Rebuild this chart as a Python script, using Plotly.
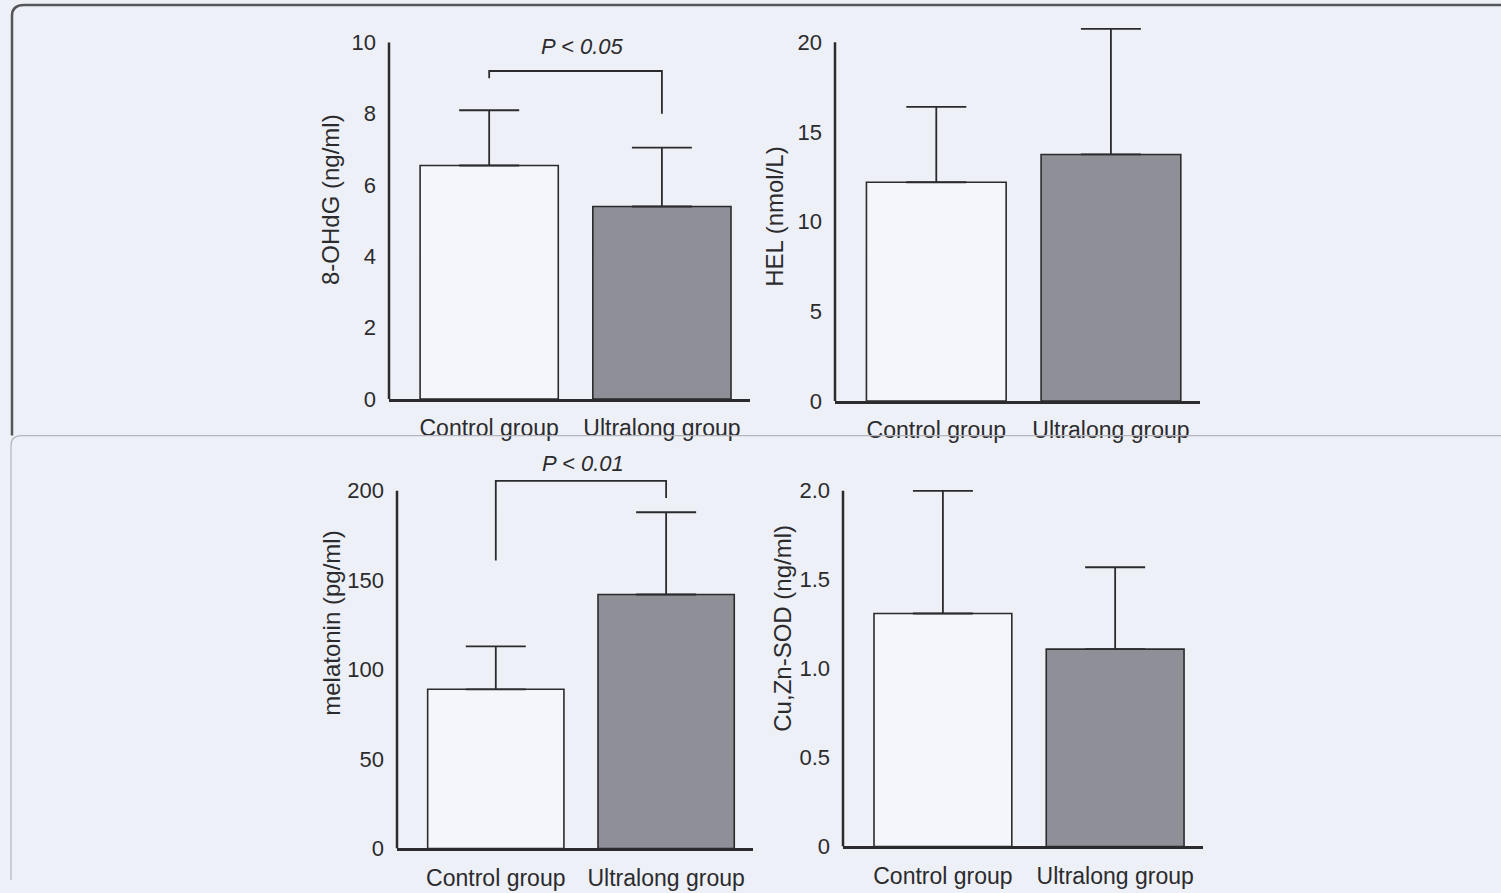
import plotly.graph_objects as go

W, H = 1501, 893

groups = ["Control group", "Ultralong group"]

ohdg_mean = [6.55, 5.4]
ohdg_sd = [1.55, 1.65]
hel_mean = [12.2, 13.75]
hel_sd = [4.2, 7.0]
mel_mean = [89, 142]
mel_sd = [24, 46]
sod_mean = [1.31, 1.11]
sod_sd = [0.69, 0.46]

ohdg_ticks = [0, 2, 4, 6, 8, 10]
hel_ticks = [0, 5, 10, 15, 20]
mel_ticks = [0, 50, 100, 150, 200]
sod_ticks = [0, 0.5, 1.0, 1.5, 2.0]
sod_ticktext = ["0", "0.5", "1.0", "1.5", "2.0"]

ohdg_bracket = [9.0, 9.2, 9.2, 8.0]
mel_bracket = [161, 205.5, 205.5, 196]
bracket_x = [0, 0, 1, 1]

BG = "#eef0f7"
INK = "#2b2b2e"
FONT = "Liberation Sans, Arial, sans-serif"

def px_x(p):
    return p / W

def px_y(p):
    return 1 - p / H

panels = [
    dict(mean=ohdg_mean, sd=ohdg_sd, ticks=ohdg_ticks, ttext=[str(t) for t in ohdg_ticks],
         xd=[px_x(389), px_x(750)], yd=[px_y(405), px_y(25)], yr=[0, 10.5],
         title="8-OHdG (ng/ml)", tx=px_x(330), ty=px_y(203)),
    dict(mean=hel_mean, sd=hel_sd, ticks=hel_ticks, ttext=[str(t) for t in hel_ticks],
         xd=[px_x(835), px_x(1200)], yd=[px_y(407), px_y(15.7)], yr=[0, 21.5],
         title="HEL (nmol/L)", tx=px_x(775), ty=px_y(220)),
    dict(mean=mel_mean, sd=mel_sd, ticks=mel_ticks, ttext=[str(t) for t in mel_ticks],
         xd=[px_x(397), px_x(753)], yd=[px_y(861), px_y(470.8)], yr=[0, 215],
         title="melatonin (pg/ml)", tx=px_x(332), ty=px_y(633)),
    dict(mean=sod_mean, sd=sod_sd, ticks=sod_ticks, ttext=sod_ticktext,
         xd=[px_x(843), px_x(1203)], yd=[px_y(859), px_y(480)], yr=[0, 2.1],
         title="Cu,Zn-SOD (ng/ml)", tx=px_x(783), ty=px_y(638)),
]

fig = go.Figure()
layout = dict(
    width=W, height=H, margin=dict(l=0, r=0, t=0, b=0),
    paper_bgcolor=BG, plot_bgcolor="rgba(0,0,0,0)",
    showlegend=False, font=dict(family=FONT, color=INK),
)
annotations = []
shapes = []

for i, p in enumerate(panels, start=1):
    xa = "x" if i == 1 else f"x{i}"
    ya = "y" if i == 1 else f"y{i}"
    fig.add_trace(go.Bar(
        x=[0, 1], y=p["mean"], width=0.8,
        marker=dict(color=["#f5f6fb", "#8e8f97"], line=dict(color=INK, width=1.6)),
        error_y=dict(type="data", symmetric=False, array=p["sd"], arrayminus=[0, 0],
                     color=INK, thickness=1.8, width=30),
        xaxis=xa, yaxis=ya,
    ))
    layout[f"xaxis{'' if i == 1 else i}"] = dict(
        domain=p["xd"], range=[-0.58, 1.51], anchor=ya,
        tickvals=[0, 1], ticktext=groups, showline=True, linecolor=INK, linewidth=2.5,
        ticks="", showgrid=False, zeroline=False, ticklabelstandoff=7,
        tickfont=dict(size=23, family=FONT, color=INK),
    )
    layout[f"yaxis{'' if i == 1 else i}"] = dict(
        domain=p["yd"], range=p["yr"], anchor=xa,
        tickvals=p["ticks"], ticktext=p["ttext"], showline=False, ticks="",
        showgrid=False, zeroline=False, ticklabelstandoff=12,
        tickfont=dict(size=22, family=FONT, color=INK),
    )
    shapes.append(dict(type="line", xref=f"{xa} domain", yref=ya, x0=0, x1=0,
                       y0=0, y1=p["ticks"][-1], line=dict(color=INK, width=2.5)))
    annotations.append(dict(text=p["title"], textangle=-90, xref="paper", yref="paper",
                            x=p["tx"], y=p["ty"], xanchor="center", yanchor="middle",
                            showarrow=False,
                            font=dict(size=24, family=FONT, color=INK)))

# significance brackets
fig.add_trace(go.Scatter(x=bracket_x, y=ohdg_bracket, mode="lines",
                         line=dict(color=INK, width=1.8), xaxis="x", yaxis="y"))
fig.add_trace(go.Scatter(x=bracket_x, y=mel_bracket, mode="lines",
                         line=dict(color=INK, width=1.8), xaxis="x3", yaxis="y3"))
annotations.append(dict(text="<i>P &lt; 0.05</i>", xref="x", yref="y", x=0.54, y=9.9,
                        showarrow=False, font=dict(size=22, family=FONT, color=INK)))
annotations.append(dict(text="<i>P &lt; 0.01</i>", xref="x3", yref="y3", x=0.51, y=215,
                        showarrow=False, font=dict(size=22, family=FONT, color=INK)))

# scanned page panel borders (decorative)
shapes.append(dict(type="path", xref="paper", yref="paper",
                   path=f"M {px_x(12)},{px_y(442)} L {px_x(12)},{px_y(16)} Q {px_x(12)},{px_y(5)} {px_x(24)},{px_y(5)} L 1,{px_y(5)}",
                   line=dict(color="#55565c", width=2.5)))
shapes.append(dict(type="path", xref="paper", yref="paper",
                   path=f"M {px_x(11)},{px_y(893)} L {px_x(11)},{px_y(452)} Q {px_x(11)},{px_y(442)} {px_x(22)},{px_y(442)} L 1,{px_y(442)}",
                   line=dict(color="#b4b5bd", width=1.2)))

layout["annotations"] = annotations
layout["shapes"] = shapes
fig.update_layout(**layout)
fig.write_html("out.html")
